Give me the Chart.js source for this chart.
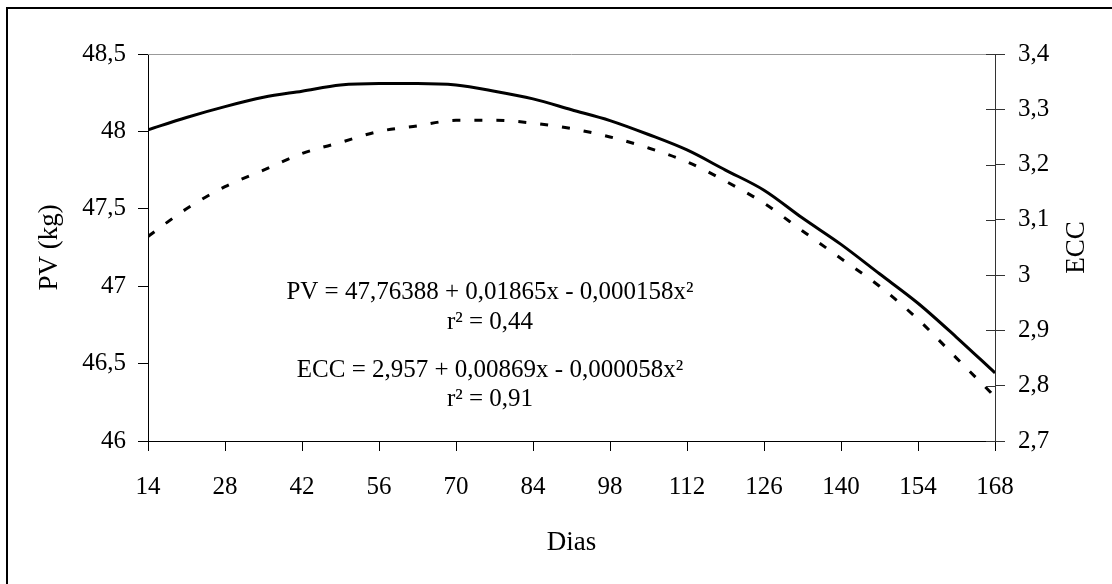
<!DOCTYPE html>
<html>
<head>
<meta charset="utf-8">
<script src="https://cdn.jsdelivr.net/npm/chart.js@4.4.1/dist/chart.umd.min.js"></script>
<style>
  html, body { margin: 0; padding: 0; background: #fff; }
  #wrap { position: relative; width: 1112px; height: 584px; }
</style>
</head>
<body>
<div id="wrap"><canvas id="chart"></canvas></div>
<script>
// dias de avaliação e valores
const dias = [14, 21, 28, 35, 42, 49, 56, 63, 70, 77, 84, 91, 98, 105, 112, 119, 126, 133, 140, 147, 154, 161, 168];
const pv = [48.01, 48.09, 48.16, 48.22, 48.26, 48.30, 48.31, 48.31, 48.30, 48.26, 48.21, 48.14, 48.07, 47.98, 47.88,
            47.75, 47.62, 47.44, 47.27, 47.08, 46.89, 46.67, 46.44];
const ecc = [3.07, 3.12, 3.16, 3.19, 3.22, 3.24, 3.26, 3.27, 3.28, 3.28, 3.275, 3.265, 3.25, 3.23, 3.205,
             3.17, 3.13, 3.08, 3.03, 2.98, 2.92, 2.85, 2.78];

const eqLines = ["PV = 47,76388 + 0,01865x - 0,000158x²", "r² = 0,44", "ECC = 2,957 + 0,00869x - 0,000058x²", "r² = 0,91"];

const serif = "'Liberation Serif', 'Times New Roman', serif";
const virgula = v => Number(v.toFixed(1)).toString().replace('.', ',');

// moldura, títulos e equações
const extras = {
    id: 'extras',
    afterDraw(chart) {
        const ctx = chart.ctx;
        const a = chart.chartArea;
        const yR = chart.scales.y2;
        ctx.save();
        // moldura externa (só esquerda e topo aparecem)
        ctx.strokeStyle = '#000';
        ctx.lineWidth = 2;
        ctx.beginPath();
        ctx.moveTo(7, 590); ctx.lineTo(7, 8); ctx.lineTo(1120, 8);
        ctx.stroke();
        // borda superior da área do gráfico
        ctx.strokeStyle = '#999';
        ctx.lineWidth = 1;
        ctx.beginPath();
        ctx.moveTo(a.left, a.top + 0.5); ctx.lineTo(a.right, a.top + 0.5);
        ctx.stroke();
        // marcas internas do eixo direito
        ctx.strokeStyle = '#333';
        yR.ticks.forEach(t => {
            const y = Math.round(yR.getPixelForValue(t.value)) + 0.5;
            ctx.beginPath();
            ctx.moveTo(a.right - 9, y); ctx.lineTo(a.right, y);
            ctx.stroke();
        });
        ctx.fillStyle = '#000';
        ctx.textAlign = 'center';
        ctx.textBaseline = 'middle';
        ctx.font = '27px ' + serif;
        ctx.fillText('Dias', (a.left + a.right) / 2, 543);
        ctx.save();
        ctx.translate(50, (a.top + a.bottom) / 2);
        ctx.rotate(-Math.PI / 2);
        ctx.fillText('PV (kg)', 0, 0);
        ctx.restore();
        ctx.save();
        ctx.translate(1077, (a.top + a.bottom) / 2);
        ctx.rotate(-Math.PI / 2);
        ctx.fillText('ECC', 0, 0);
        ctx.restore();
        ctx.font = '25px ' + serif;
        const ys = [292, 322, 370, 399];
        eqLines.forEach((s, i) => ctx.fillText(s, 490, ys[i]));
        ctx.restore();
    }
};

const ctx = document.getElementById('chart').getContext('2d');
const chart = new Chart(ctx, {
    type: 'line',
    data: {
        datasets: [{
            label: 'PV',
            data: dias.map((d, i) => ({ x: d, y: pv[i] })),
            yAxisID: 'y',
            borderColor: '#000',
            borderWidth: 3,
            pointRadius: 0,
            cubicInterpolationMode: 'monotone',
            fill: false
        }, {
            label: 'ECC',
            data: dias.map((d, i) => ({ x: d, y: ecc[i] })),
            yAxisID: 'y2',
            borderColor: '#000',
            borderWidth: 3,
            borderDash: [8, 14],
            pointRadius: 0,
            cubicInterpolationMode: 'monotone',
            fill: false
        }]
    },
    options: {
        responsive: true,
        maintainAspectRatio: false,
        animation: false,
        layout: { padding: { top: 54, left: 0, right: 0, bottom: 0 } },
        plugins: { legend: { display: false }, tooltip: { enabled: false } },
        scales: {
            x: {
                type: 'linear',
                min: 14,
                max: 168,
                afterFit: s => { s.height = 143; },
                ticks: { stepSize: 14, padding: 21, color: '#000', font: { family: serif, size: 25 } },
                grid: { drawOnChartArea: false, tickLength: 10, color: '#000' },
                border: { color: '#000', width: 1 }
            },
            y: {
                position: 'left',
                min: 46,
                max: 48.5,
                afterFit: s => { s.width = 148; },
                ticks: { stepSize: 0.5, padding: 12, color: '#000', font: { family: serif, size: 25 }, callback: virgula },
                grid: { drawOnChartArea: false, tickLength: 10, color: '#000' },
                border: { color: '#000', width: 1 }
            },
            y2: {
                position: 'right',
                min: 2.7,
                max: 3.4,
                afterFit: s => { s.width = 117; },
                ticks: { stepSize: 0.1, padding: 13, color: '#000', font: { family: serif, size: 25 }, callback: virgula },
                grid: { drawOnChartArea: false, tickLength: 10, color: '#333' },
                border: { color: '#333', width: 1 }
            }
        }
    },
    plugins: [extras]
});
</script>
</body>
</html>
